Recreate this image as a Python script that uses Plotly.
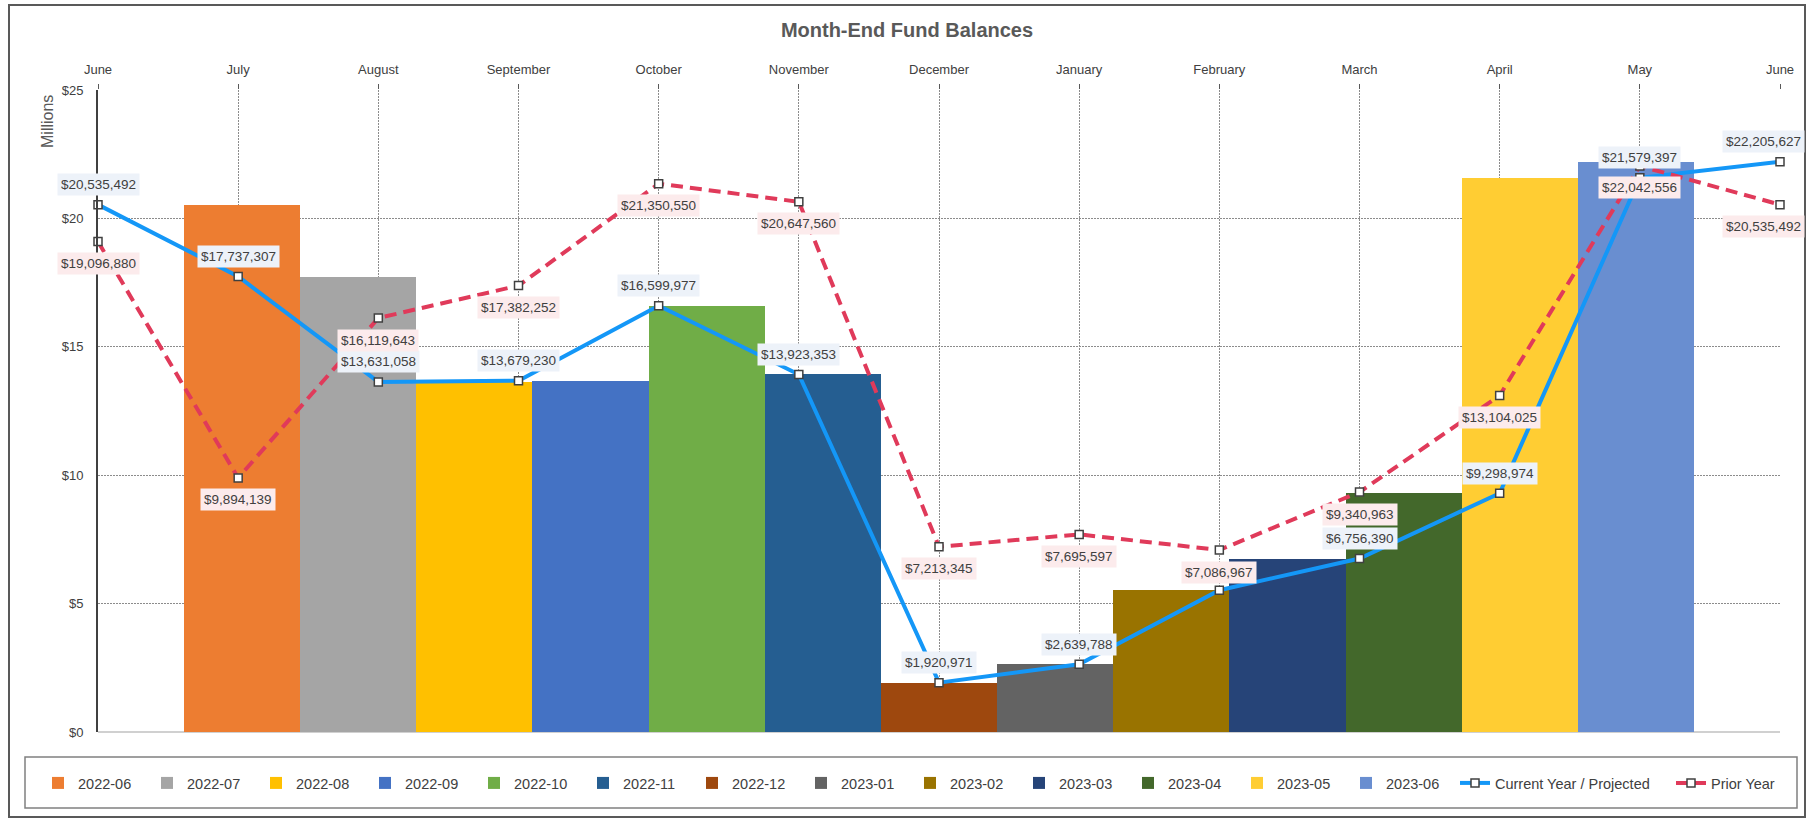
import plotly.graph_objects as go

# ---------------- data ----------------
months = ["June", "July", "August", "September", "October", "November", "December",
          "January", "February", "March", "April", "May", "June"]
bar_labels = ["2022-06", "2022-07", "2022-08", "2022-09", "2022-10", "2022-11", "2022-12",
              "2023-01", "2023-02", "2023-03", "2023-04", "2023-05", "2023-06"]
current_year = [20535492, 17737307, 13631058, 13679230, 16599977, 13923353, 1920971,
                2639788, 5520000, 6756390, 9298974, 21579397, 22205627]
prior_year = [19096880, 9894139, 16119643, 17382252, 21350550, 20647560, 7213345,
              7695597, 7086967, 9340963, 13104025, 22042556, 20535492]
show_current_label = [True, True, True, True, True, True, True, True, False, True, True, True, True]

# ---------------- style ----------------
bar_colors = ["#ED7D31", "#A5A5A5", "#FFC000", "#4472C4", "#70AD47", "#255E91", "#9E480E",
              "#636363", "#997300", "#264478", "#43682B", "#FFCD33", "#698ED0"]
label_xshift = [0] * 12 + [-17]
FONT = "Arial, 'Liberation Sans', sans-serif"
TXT = "#404040"

W, H = 1814, 821
ML, MR, MT, MB = 98, 34, 90, 89
PW, PH = W - ML - MR, H - MT - MB


def px_x(px):
    return (px - ML) / PW


def px_y(py):
    return (H - MB - py) / PH


month_pos = list(range(len(months)))

fig = go.Figure()

for lab, val, col in zip(bar_labels, current_year, bar_colors):
    fig.add_trace(go.Bar(
        x=[lab], y=[val / 1e6], name=lab, xaxis="x", yaxis="y",
        marker=dict(color=col, line=dict(width=0)),
        legendwidth=64, hoverinfo="skip"))

fig.add_trace(go.Scatter(
    x=month_pos, y=[v / 1e6 for v in current_year], name="Current Year / Projected",
    xaxis="x2", yaxis="y", mode="lines+markers", cliponaxis=False,
    line=dict(color="#1497F7", width=4),
    marker=dict(symbol="square", size=8, color="white", line=dict(color="#404040", width=1.5)),
    legendwidth=171))

fig.add_trace(go.Scatter(
    x=month_pos, y=[v / 1e6 for v in prior_year], name="Prior Year",
    xaxis="x2", yaxis="y", mode="lines+markers", cliponaxis=False,
    line=dict(color="#E03A5A", width=4, dash="12px,7px"),
    marker=dict(symbol="square", size=8, color="white", line=dict(color="#404040", width=1.5))))

annotations = []
for i, v in enumerate(current_year):
    if show_current_label[i]:
        annotations.append(dict(
            x=month_pos[i], y=v / 1e6, xref="x2", yref="y", text=f"${v:,}",
            showarrow=False, yshift=20, xshift=label_xshift[i],
            bgcolor="#EDF2F9", borderpad=3,
            font=dict(family=FONT, size=13.5, color=TXT)))
for i, v in enumerate(prior_year):
    annotations.append(dict(
        x=month_pos[i], y=v / 1e6, xref="x2", yref="y", text=f"${v:,}",
        showarrow=False, yshift=-22, xshift=label_xshift[i],
        bgcolor="#FCEBEC", borderpad=3,
        font=dict(family=FONT, size=13.5, color=TXT)))

annotations.append(dict(
    x=px_x(47), y=px_y(122), xref="paper", yref="paper", text="Millions",
    xanchor="center", yanchor="middle",
    textangle=-90, showarrow=False, font=dict(family=FONT, size=16, color="#595959")))

shapes = [
    dict(type="rect", xref="paper", yref="paper",
         x0=px_x(9), x1=px_x(1805), y0=px_y(817), y1=px_y(5),
         line=dict(color="#595959", width=2), fillcolor="rgba(0,0,0,0)", layer="below"),
    dict(type="rect", xref="paper", yref="paper",
         x0=px_x(25), x1=px_x(1797), y0=px_y(808), y1=px_y(757),
         line=dict(color="#808080", width=1.5), fillcolor="rgba(0,0,0,0)", layer="below"),
]

fig.update_layout(
    width=W, height=H, autosize=False,
    margin=dict(l=ML, r=MR, t=MT, b=MB, pad=0),
    paper_bgcolor="white", plot_bgcolor="white",
    font=dict(family=FONT, color=TXT),
    barmode="overlay", bargap=0,
    title=dict(text="Month-End Fund Balances", x=0.5, xref="container", xanchor="center",
               y=1 - 30 / H, yref="container", yanchor="middle",
               font=dict(family=FONT, size=20, color="#595959", weight="bold")),
    xaxis=dict(type="category", categoryorder="array", categoryarray=bar_labels,
               range=[-1.24, 13.24], visible=False, fixedrange=True),
    xaxis2=dict(overlaying="x", side="top", anchor="y", range=[0, 12],
                tickmode="array", tickvals=month_pos, ticktext=months,
                showgrid=True, gridcolor="#8c8c8c", griddash="2px,1px", gridwidth=1.2,
                ticks="outside", ticklen=5, tickcolor="#595959", ticklabelstandoff=5,
                tickfont=dict(family=FONT, size=13, color=TXT),
                zeroline=False, showline=False, fixedrange=True),
    yaxis=dict(range=[0, 25], tick0=0, dtick=5, tickprefix="$",
               showgrid=True, gridcolor="#8c8c8c", griddash="2px,1px", gridwidth=1.2,
               showline=True, linecolor="#404040", linewidth=2,
               zeroline=True, zerolinecolor="#d0d0d0", zerolinewidth=1.5,
               ticks="", ticklabelstandoff=10,
               tickfont=dict(family=FONT, size=13, color=TXT), fixedrange=True),
    legend=dict(orientation="h", x=px_x(38), xanchor="left", y=px_y(783), yanchor="middle",
                traceorder="normal", bgcolor="rgba(0,0,0,0)", borderwidth=0,
                font=dict(family=FONT, size=14.5, color=TXT)),
    annotations=annotations,
    shapes=shapes,
    showlegend=True,
)

fig.write_html("out.html", config={"displayModeBar": False},
               post_script="document.body.style.margin='0px';")
